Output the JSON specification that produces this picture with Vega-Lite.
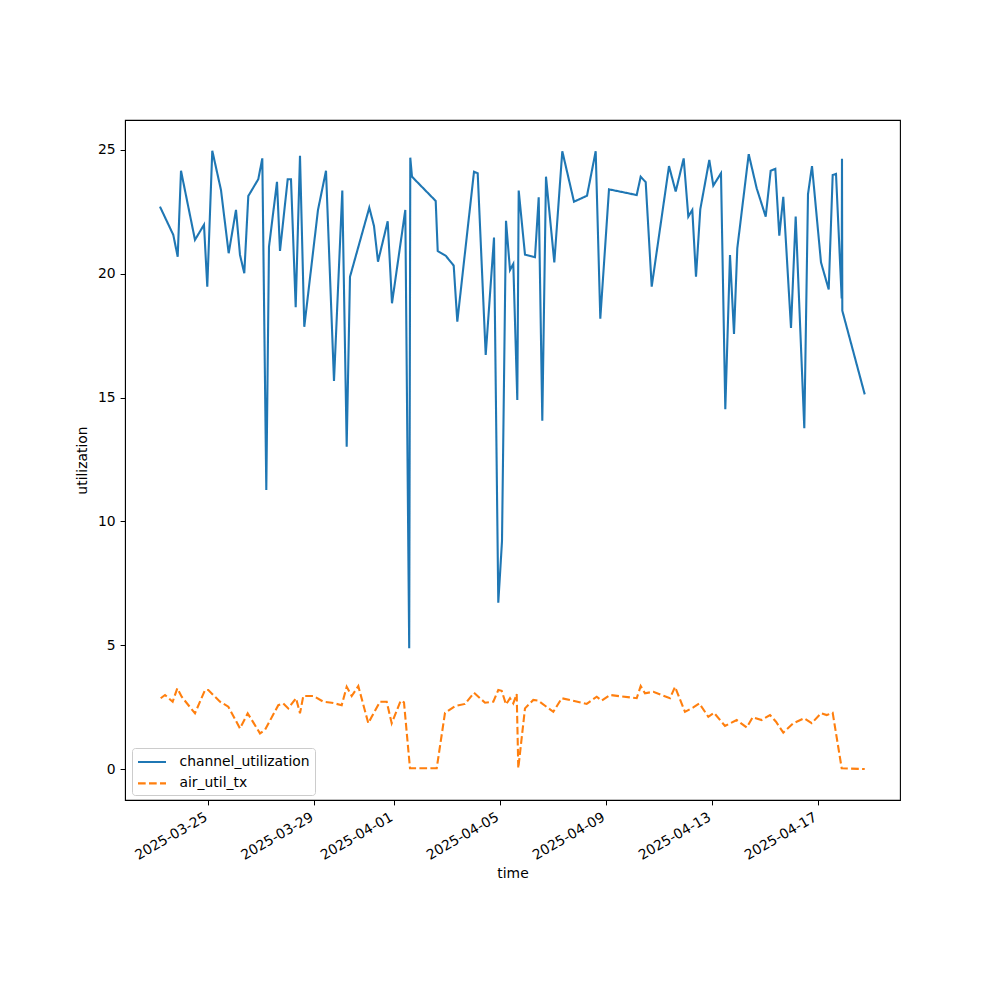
{
  "$schema": "https://vega.github.io/schema/vega-lite/v6.json",
  "width": 775,
  "height": 680,
  "autosize": {"type": "none"},
  "padding": {"left": 125, "top": 120, "right": 100, "bottom": 200},
  "background": "#ffffff",
  "view": {"stroke": "#000000", "strokeWidth": 1.1, "fill": "#ffffff"},
  "config": {
    "font": "DejaVu Sans",
    "axis": {
      "labelFont": "DejaVu Sans",
      "titleFont": "DejaVu Sans",
      "labelFontSize": 13.9,
      "titleFontSize": 13.9,
      "titleFontWeight": "normal",
      "labelColor": "#000000",
      "titleColor": "#000000",
      "tickColor": "#000000",
      "domainColor": "#000000",
      "tickSize": 4.9,
      "labelPadding": 4.9,
      "grid": false
    },
    "legend": {
      "labelFont": "DejaVu Sans",
      "title": null,
      "orient": "none",
      "legendX": 7,
      "legendY": 628,
      "symbolType": "M-1,0L2.5,0",
      "symbolSize": 256,
      "symbolStrokeWidth": 2.1,
      "labelFontSize": 13.9,
      "labelOffset": 24,
      "rowPadding": 4.4,
      "padding": 4.5,
      "strokeColor": "#cccccc",
      "fillColor": "#ffffff",
      "cornerRadius": 3,
      "labelColor": "#000000"
    }
  },
  "data": {
    "values": [
      {"time": "2025-03-23T04:15:00Z", "series": "channel_utilization", "value": 22.71},
      {"time": "2025-03-23T16:18:00Z", "series": "channel_utilization", "value": 21.57},
      {"time": "2025-03-23T20:17:00Z", "series": "channel_utilization", "value": 20.69},
      {"time": "2025-03-23T23:17:00Z", "series": "channel_utilization", "value": 24.16},
      {"time": "2025-03-24T11:57:00Z", "series": "channel_utilization", "value": 21.37},
      {"time": "2025-03-24T20:06:00Z", "series": "channel_utilization", "value": 21.98},
      {"time": "2025-03-24T23:05:00Z", "series": "channel_utilization", "value": 19.48},
      {"time": "2025-03-25T03:37:00Z", "series": "channel_utilization", "value": 24.97},
      {"time": "2025-03-25T11:30:00Z", "series": "channel_utilization", "value": 23.38},
      {"time": "2025-03-25T18:28:00Z", "series": "channel_utilization", "value": 20.83},
      {"time": "2025-03-26T01:05:00Z", "series": "channel_utilization", "value": 22.58},
      {"time": "2025-03-26T04:43:00Z", "series": "channel_utilization", "value": 20.76},
      {"time": "2025-03-26T08:36:00Z", "series": "channel_utilization", "value": 20.02},
      {"time": "2025-03-26T12:14:00Z", "series": "channel_utilization", "value": 23.14},
      {"time": "2025-03-26T21:17:00Z", "series": "channel_utilization", "value": 23.82},
      {"time": "2025-03-27T00:55:00Z", "series": "channel_utilization", "value": 24.66},
      {"time": "2025-03-27T04:32:00Z", "series": "channel_utilization", "value": 11.27},
      {"time": "2025-03-27T06:58:00Z", "series": "channel_utilization", "value": 21.09},
      {"time": "2025-03-27T14:13:00Z", "series": "channel_utilization", "value": 23.71},
      {"time": "2025-03-27T16:56:00Z", "series": "channel_utilization", "value": 20.92},
      {"time": "2025-03-27T23:55:00Z", "series": "channel_utilization", "value": 23.82},
      {"time": "2025-03-28T02:54:00Z", "series": "channel_utilization", "value": 23.82},
      {"time": "2025-03-28T07:09:00Z", "series": "channel_utilization", "value": 18.65},
      {"time": "2025-03-28T11:03:00Z", "series": "channel_utilization", "value": 24.77},
      {"time": "2025-03-28T14:56:00Z", "series": "channel_utilization", "value": 17.86},
      {"time": "2025-03-29T03:21:00Z", "series": "channel_utilization", "value": 22.58},
      {"time": "2025-03-29T10:36:00Z", "series": "channel_utilization", "value": 24.16},
      {"time": "2025-03-29T17:50:00Z", "series": "channel_utilization", "value": 15.67},
      {"time": "2025-03-30T01:22:00Z", "series": "channel_utilization", "value": 23.36},
      {"time": "2025-03-30T05:20:00Z", "series": "channel_utilization", "value": 13.02},
      {"time": "2025-03-30T08:20:00Z", "series": "channel_utilization", "value": 19.88},
      {"time": "2025-03-31T01:49:00Z", "series": "channel_utilization", "value": 22.67},
      {"time": "2025-03-31T06:04:00Z", "series": "channel_utilization", "value": 21.93},
      {"time": "2025-03-31T09:41:00Z", "series": "channel_utilization", "value": 20.49},
      {"time": "2025-03-31T18:28:00Z", "series": "channel_utilization", "value": 22.12},
      {"time": "2025-03-31T22:22:00Z", "series": "channel_utilization", "value": 18.81},
      {"time": "2025-04-01T10:25:00Z", "series": "channel_utilization", "value": 22.58},
      {"time": "2025-04-01T13:57:00Z", "series": "channel_utilization", "value": 4.88},
      {"time": "2025-04-01T14:13:00Z", "series": "channel_utilization", "value": 10.0},
      {"time": "2025-04-01T14:56:00Z", "series": "channel_utilization", "value": 24.69},
      {"time": "2025-04-01T16:29:00Z", "series": "channel_utilization", "value": 23.92},
      {"time": "2025-04-02T13:57:00Z", "series": "channel_utilization", "value": 22.94},
      {"time": "2025-04-02T15:46:00Z", "series": "channel_utilization", "value": 20.92},
      {"time": "2025-04-02T23:00:00Z", "series": "channel_utilization", "value": 20.73},
      {"time": "2025-04-03T06:15:00Z", "series": "channel_utilization", "value": 20.33},
      {"time": "2025-04-03T09:31:00Z", "series": "channel_utilization", "value": 18.07},
      {"time": "2025-04-04T00:38:00Z", "series": "channel_utilization", "value": 24.12},
      {"time": "2025-04-04T03:59:00Z", "series": "channel_utilization", "value": 24.06},
      {"time": "2025-04-04T11:14:00Z", "series": "channel_utilization", "value": 16.72},
      {"time": "2025-04-04T18:45:00Z", "series": "channel_utilization", "value": 21.46},
      {"time": "2025-04-04T22:38:00Z", "series": "channel_utilization", "value": 6.72},
      {"time": "2025-04-05T01:59:00Z", "series": "channel_utilization", "value": 9.2},
      {"time": "2025-04-05T05:37:00Z", "series": "channel_utilization", "value": 22.14},
      {"time": "2025-04-05T09:14:00Z", "series": "channel_utilization", "value": 20.15},
      {"time": "2025-04-05T12:13:00Z", "series": "channel_utilization", "value": 20.4},
      {"time": "2025-04-05T15:51:00Z", "series": "channel_utilization", "value": 14.9},
      {"time": "2025-04-05T17:07:00Z", "series": "channel_utilization", "value": 23.36},
      {"time": "2025-04-05T22:49:00Z", "series": "channel_utilization", "value": 20.77},
      {"time": "2025-04-06T07:52:00Z", "series": "channel_utilization", "value": 20.67},
      {"time": "2025-04-06T11:14:00Z", "series": "channel_utilization", "value": 23.09},
      {"time": "2025-04-06T14:29:00Z", "series": "channel_utilization", "value": 14.07},
      {"time": "2025-04-06T17:50:00Z", "series": "channel_utilization", "value": 23.92},
      {"time": "2025-04-07T01:22:00Z", "series": "channel_utilization", "value": 20.46},
      {"time": "2025-04-07T08:36:00Z", "series": "channel_utilization", "value": 24.95},
      {"time": "2025-04-07T19:12:00Z", "series": "channel_utilization", "value": 22.91},
      {"time": "2025-04-08T06:58:00Z", "series": "channel_utilization", "value": 23.15},
      {"time": "2025-04-08T14:51:00Z", "series": "channel_utilization", "value": 24.95},
      {"time": "2025-04-08T19:01:00Z", "series": "channel_utilization", "value": 18.19},
      {"time": "2025-04-09T02:54:00Z", "series": "channel_utilization", "value": 23.41},
      {"time": "2025-04-10T03:59:00Z", "series": "channel_utilization", "value": 23.18},
      {"time": "2025-04-10T07:36:00Z", "series": "channel_utilization", "value": 23.92},
      {"time": "2025-04-10T12:08:00Z", "series": "channel_utilization", "value": 23.7},
      {"time": "2025-04-10T17:34:00Z", "series": "channel_utilization", "value": 19.48},
      {"time": "2025-04-11T09:14:00Z", "series": "channel_utilization", "value": 24.35},
      {"time": "2025-04-11T15:18:00Z", "series": "channel_utilization", "value": 23.32},
      {"time": "2025-04-11T22:32:00Z", "series": "channel_utilization", "value": 24.66},
      {"time": "2025-04-12T02:43:00Z", "series": "channel_utilization", "value": 22.31},
      {"time": "2025-04-12T06:20:00Z", "series": "channel_utilization", "value": 22.58},
      {"time": "2025-04-12T09:41:00Z", "series": "channel_utilization", "value": 19.88},
      {"time": "2025-04-12T13:35:00Z", "series": "channel_utilization", "value": 22.61},
      {"time": "2025-04-12T21:44:00Z", "series": "channel_utilization", "value": 24.6},
      {"time": "2025-04-13T01:21:00Z", "series": "channel_utilization", "value": 23.56},
      {"time": "2025-04-13T08:19:00Z", "series": "channel_utilization", "value": 24.06},
      {"time": "2025-04-13T12:13:00Z", "series": "channel_utilization", "value": 14.53},
      {"time": "2025-04-13T16:28:00Z", "series": "channel_utilization", "value": 20.76},
      {"time": "2025-04-13T20:06:00Z", "series": "channel_utilization", "value": 17.57},
      {"time": "2025-04-13T23:05:00Z", "series": "channel_utilization", "value": 21.03},
      {"time": "2025-04-14T09:25:00Z", "series": "channel_utilization", "value": 24.83},
      {"time": "2025-04-14T16:39:00Z", "series": "channel_utilization", "value": 23.45},
      {"time": "2025-04-15T00:48:00Z", "series": "channel_utilization", "value": 22.31},
      {"time": "2025-04-15T05:20:00Z", "series": "channel_utilization", "value": 24.16},
      {"time": "2025-04-15T09:30:00Z", "series": "channel_utilization", "value": 24.24},
      {"time": "2025-04-15T13:07:00Z", "series": "channel_utilization", "value": 21.54},
      {"time": "2025-04-15T16:44:00Z", "series": "channel_utilization", "value": 23.11},
      {"time": "2025-04-15T23:43:00Z", "series": "channel_utilization", "value": 17.81},
      {"time": "2025-04-16T03:58:00Z", "series": "channel_utilization", "value": 22.31},
      {"time": "2025-04-16T11:46:00Z", "series": "channel_utilization", "value": 13.76},
      {"time": "2025-04-16T15:07:00Z", "series": "channel_utilization", "value": 23.22},
      {"time": "2025-04-16T18:44:00Z", "series": "channel_utilization", "value": 24.35},
      {"time": "2025-04-17T02:53:00Z", "series": "channel_utilization", "value": 20.46},
      {"time": "2025-04-17T09:52:00Z", "series": "channel_utilization", "value": 19.37},
      {"time": "2025-04-17T13:29:00Z", "series": "channel_utilization", "value": 23.99},
      {"time": "2025-04-17T16:29:00Z", "series": "channel_utilization", "value": 24.03},
      {"time": "2025-04-17T21:38:00Z", "series": "channel_utilization", "value": 19.0},
      {"time": "2025-04-17T21:54:00Z", "series": "channel_utilization", "value": 24.65},
      {"time": "2025-04-17T22:11:00Z", "series": "channel_utilization", "value": 18.51},
      {"time": "2025-04-18T18:30:00Z", "series": "channel_utilization", "value": 15.13},
      {"time": "2025-03-23T04:53:00Z", "series": "air_util_tx", "value": 2.86},
      {"time": "2025-03-23T08:47:00Z", "series": "air_util_tx", "value": 2.99},
      {"time": "2025-03-23T15:45:00Z", "series": "air_util_tx", "value": 2.72},
      {"time": "2025-03-23T19:55:00Z", "series": "air_util_tx", "value": 3.26},
      {"time": "2025-03-23T23:54:00Z", "series": "air_util_tx", "value": 2.92},
      {"time": "2025-03-24T11:57:00Z", "series": "air_util_tx", "value": 2.25},
      {"time": "2025-03-24T21:00:00Z", "series": "air_util_tx", "value": 3.19},
      {"time": "2025-03-25T00:00:00Z", "series": "air_util_tx", "value": 3.19},
      {"time": "2025-03-25T10:36:00Z", "series": "air_util_tx", "value": 2.72},
      {"time": "2025-03-25T18:07:00Z", "series": "air_util_tx", "value": 2.52},
      {"time": "2025-03-26T04:43:00Z", "series": "air_util_tx", "value": 1.64},
      {"time": "2025-03-26T11:41:00Z", "series": "air_util_tx", "value": 2.25},
      {"time": "2025-03-26T22:49:00Z", "series": "air_util_tx", "value": 1.44},
      {"time": "2025-03-27T03:21:00Z", "series": "air_util_tx", "value": 1.58},
      {"time": "2025-03-27T15:24:00Z", "series": "air_util_tx", "value": 2.58},
      {"time": "2025-03-27T19:55:00Z", "series": "air_util_tx", "value": 2.65},
      {"time": "2025-03-28T00:27:00Z", "series": "air_util_tx", "value": 2.45},
      {"time": "2025-03-28T07:26:00Z", "series": "air_util_tx", "value": 2.86},
      {"time": "2025-03-28T11:03:00Z", "series": "air_util_tx", "value": 2.25},
      {"time": "2025-03-28T14:02:00Z", "series": "air_util_tx", "value": 2.95},
      {"time": "2025-03-28T23:06:00Z", "series": "air_util_tx", "value": 2.95},
      {"time": "2025-03-29T08:09:00Z", "series": "air_util_tx", "value": 2.72},
      {"time": "2025-03-29T15:46:00Z", "series": "air_util_tx", "value": 2.68},
      {"time": "2025-03-30T00:49:00Z", "series": "air_util_tx", "value": 2.58},
      {"time": "2025-03-30T05:20:00Z", "series": "air_util_tx", "value": 3.32},
      {"time": "2025-03-30T09:52:00Z", "series": "air_util_tx", "value": 2.95},
      {"time": "2025-03-30T15:51:00Z", "series": "air_util_tx", "value": 3.35},
      {"time": "2025-03-31T00:54:00Z", "series": "air_util_tx", "value": 1.85},
      {"time": "2025-03-31T03:59:00Z", "series": "air_util_tx", "value": 2.11},
      {"time": "2025-03-31T11:30:00Z", "series": "air_util_tx", "value": 2.72},
      {"time": "2025-03-31T17:34:00Z", "series": "air_util_tx", "value": 2.72},
      {"time": "2025-03-31T22:06:00Z", "series": "air_util_tx", "value": 1.85},
      {"time": "2025-04-01T06:15:00Z", "series": "air_util_tx", "value": 2.76},
      {"time": "2025-04-01T09:14:00Z", "series": "air_util_tx", "value": 2.69},
      {"time": "2025-04-01T14:40:00Z", "series": "air_util_tx", "value": 0.03},
      {"time": "2025-04-02T14:51:00Z", "series": "air_util_tx", "value": 0.03},
      {"time": "2025-04-02T22:22:00Z", "series": "air_util_tx", "value": 2.27},
      {"time": "2025-04-03T07:25:00Z", "series": "air_util_tx", "value": 2.54},
      {"time": "2025-04-03T16:29:00Z", "series": "air_util_tx", "value": 2.63},
      {"time": "2025-04-04T00:38:00Z", "series": "air_util_tx", "value": 3.08},
      {"time": "2025-04-04T10:36:00Z", "series": "air_util_tx", "value": 2.68},
      {"time": "2025-04-04T18:07:00Z", "series": "air_util_tx", "value": 2.72},
      {"time": "2025-04-04T22:38:00Z", "series": "air_util_tx", "value": 3.19},
      {"time": "2025-04-05T01:43:00Z", "series": "air_util_tx", "value": 3.16},
      {"time": "2025-04-05T05:37:00Z", "series": "air_util_tx", "value": 2.61},
      {"time": "2025-04-05T09:14:00Z", "series": "air_util_tx", "value": 2.86},
      {"time": "2025-04-05T12:13:00Z", "series": "air_util_tx", "value": 2.65},
      {"time": "2025-04-05T15:18:00Z", "series": "air_util_tx", "value": 3.03},
      {"time": "2025-04-05T16:45:00Z", "series": "air_util_tx", "value": 0.03},
      {"time": "2025-04-05T22:49:00Z", "series": "air_util_tx", "value": 2.45},
      {"time": "2025-04-06T06:20:00Z", "series": "air_util_tx", "value": 2.79},
      {"time": "2025-04-06T10:52:00Z", "series": "air_util_tx", "value": 2.76},
      {"time": "2025-04-07T00:27:00Z", "series": "air_util_tx", "value": 2.31},
      {"time": "2025-04-07T08:04:00Z", "series": "air_util_tx", "value": 2.86},
      {"time": "2025-04-08T06:42:00Z", "series": "air_util_tx", "value": 2.63},
      {"time": "2025-04-08T15:46:00Z", "series": "air_util_tx", "value": 2.92},
      {"time": "2025-04-08T20:17:00Z", "series": "air_util_tx", "value": 2.76},
      {"time": "2025-04-09T03:48:00Z", "series": "air_util_tx", "value": 2.99},
      {"time": "2025-04-10T03:59:00Z", "series": "air_util_tx", "value": 2.86},
      {"time": "2025-04-10T07:36:00Z", "series": "air_util_tx", "value": 3.35},
      {"time": "2025-04-10T11:30:00Z", "series": "air_util_tx", "value": 3.06},
      {"time": "2025-04-10T19:01:00Z", "series": "air_util_tx", "value": 3.12},
      {"time": "2025-04-11T10:08:00Z", "series": "air_util_tx", "value": 2.86},
      {"time": "2025-04-11T14:40:00Z", "series": "air_util_tx", "value": 3.32},
      {"time": "2025-04-11T23:43:00Z", "series": "air_util_tx", "value": 2.31},
      {"time": "2025-04-12T07:14:00Z", "series": "air_util_tx", "value": 2.49},
      {"time": "2025-04-12T12:41:00Z", "series": "air_util_tx", "value": 2.65},
      {"time": "2025-04-12T20:50:00Z", "series": "air_util_tx", "value": 2.11},
      {"time": "2025-04-13T01:59:00Z", "series": "air_util_tx", "value": 2.27},
      {"time": "2025-04-13T11:57:00Z", "series": "air_util_tx", "value": 1.74},
      {"time": "2025-04-13T22:33:00Z", "series": "air_util_tx", "value": 1.98},
      {"time": "2025-04-14T07:36:00Z", "series": "air_util_tx", "value": 1.68},
      {"time": "2025-04-14T13:02:00Z", "series": "air_util_tx", "value": 2.09},
      {"time": "2025-04-14T21:11:00Z", "series": "air_util_tx", "value": 1.98},
      {"time": "2025-04-15T04:43:00Z", "series": "air_util_tx", "value": 2.18},
      {"time": "2025-04-15T10:08:00Z", "series": "air_util_tx", "value": 1.91},
      {"time": "2025-04-15T16:45:00Z", "series": "air_util_tx", "value": 1.47},
      {"time": "2025-04-16T01:49:00Z", "series": "air_util_tx", "value": 1.85},
      {"time": "2025-04-16T11:30:00Z", "series": "air_util_tx", "value": 2.05},
      {"time": "2025-04-16T18:28:00Z", "series": "air_util_tx", "value": 1.85},
      {"time": "2025-04-17T02:53:00Z", "series": "air_util_tx", "value": 2.25},
      {"time": "2025-04-17T08:03:00Z", "series": "air_util_tx", "value": 2.18},
      {"time": "2025-04-17T13:29:00Z", "series": "air_util_tx", "value": 2.27},
      {"time": "2025-04-17T21:38:00Z", "series": "air_util_tx", "value": 0.03},
      {"time": "2025-04-18T18:30:00Z", "series": "air_util_tx", "value": 0.0}
    ]
  },
  "mark": {"type": "line", "strokeWidth": 2.1, "clip": true},
  "encoding": {
    "x": {
      "field": "time",
      "type": "temporal",
      "scale": {
        "type": "utc",
        "domain": [
          {"year": 2025, "month": 3, "date": 21, "hours": 20, "minutes": 34, "utc": true},
          {"year": 2025, "month": 4, "date": 20, "hours": 2, "minutes": 26, "utc": true}
        ],
        "nice": false
      },
      "axis": {
        "title": "time",
        "format": "%Y-%m-%d",
        "labelAngle": -30,
        "labelAlign": "right",
        "labelBaseline": "top",
        "labelOffset": -6,
        "titlePadding": 4,
        "labelOverlap": false,
        "labelFlush": false,
        "values": [
          {"year": 2025, "month": 3, "date": 25, "utc": true},
          {"year": 2025, "month": 3, "date": 29, "utc": true},
          {"year": 2025, "month": 4, "date": 1, "utc": true},
          {"year": 2025, "month": 4, "date": 5, "utc": true},
          {"year": 2025, "month": 4, "date": 9, "utc": true},
          {"year": 2025, "month": 4, "date": 13, "utc": true},
          {"year": 2025, "month": 4, "date": 17, "utc": true}
        ]
      }
    },
    "y": {
      "field": "value",
      "type": "quantitative",
      "scale": {"domain": [-1.25, 26.21], "nice": false, "zero": false},
      "axis": {
        "title": "utilization",
        "values": [0, 5, 10, 15, 20, 25],
        "titlePadding": 8,
        "labelFlush": false
      }
    },
    "color": {
      "field": "series",
      "type": "nominal",
      "scale": {
        "domain": ["channel_utilization", "air_util_tx"],
        "range": ["#1f77b4", "#ff7f0e"]
      },
      "legend": {"title": null}
    },
    "strokeDash": {
      "field": "series",
      "type": "nominal",
      "scale": {
        "domain": ["channel_utilization", "air_util_tx"],
        "range": [[1, 0], [7.7, 3.3]]
      },
      "legend": {"title": null}
    }
  }
}
